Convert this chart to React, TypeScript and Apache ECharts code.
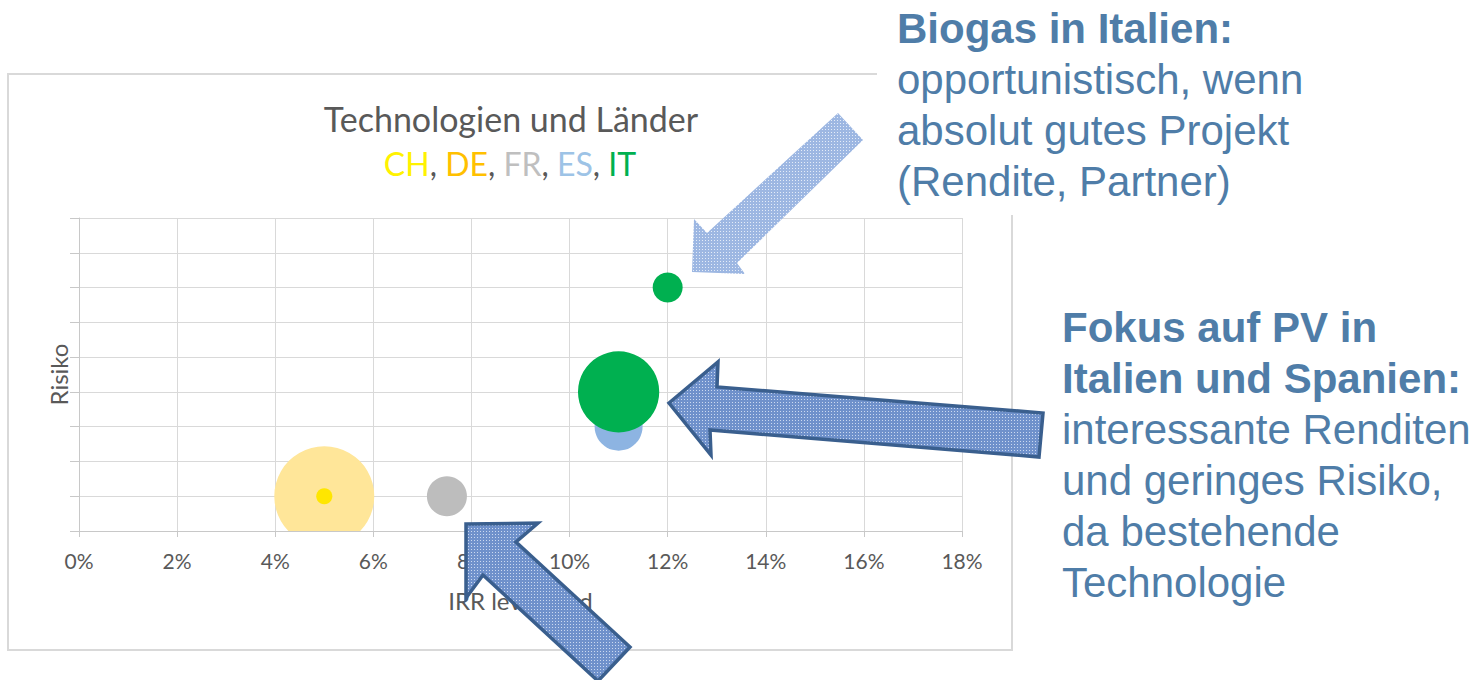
import React, { useEffect, useRef } from "react";
import * as echarts from "echarts";

// ---- data ----
const X_MIN = 0;
const X_MAX = 0.18;
const X_STEP = 0.02;
const Y_MIN = 0;
const Y_MAX = 9;
const Y_STEP = 1;

const X_AXIS_NAME = "IRR leveraged";
const Y_AXIS_NAME = "Risiko";
const TITLE = "Technologien und Länder";
const COUNTRIES = ["CH", "DE", "FR", "ES", "IT"];

// [IRR leveraged, Risiko, bubble size]
const DE_POINTS = [[0.05, 1, 100]];
const CH_POINTS = [[0.05, 1, 2.6]];
const FR_POINTS = [[0.075, 1, 16]];
const ES_POINTS = [[0.11, 3, 23]];
const IT_POINTS = [
  [0.11, 4, 66],
  [0.12, 7, 9],
];

const BIOGAS_LINES = [
  { t: "Biogas in Italien:", b: true },
  { t: "opportunistisch, wenn", b: false },
  { t: "absolut gutes Projekt", b: false },
  { t: "(Rendite, Partner)", b: false },
];
const FOKUS_LINES = [
  { t: "Fokus auf PV in", b: true },
  { t: "Italien und Spanien:", b: true },
  { t: "interessante Renditen", b: false },
  { t: "und geringes Risiko,", b: false },
  { t: "da bestehende", b: false },
  { t: "Technologie", b: false },
];

const COLORS: Record<string, string> = {
  CH: "#FFE600",
  DE: "#FFE699",
  FR: "#BDBDBD",
  ES: "#8DB4E2",
  IT: "#00B050",
};
const TITLE_COLORS: Record<string, string> = {
  CH: "#FFF200",
  DE: "#FFC000",
  FR: "#BFBFBF",
  ES: "#9DC3E6",
  IT: "#00B050",
};

const BUBBLE_SCALE = 5;
const TEXT_BLUE = "#4F7DA8";
const AXIS_GRAY = "#595959";
const GRID_GRAY = "#D9D9D9";

function makePattern(base: string, dot: string) {
  const c = document.createElement("canvas");
  c.width = 3;
  c.height = 3;
  const ctx = c.getContext("2d");
  if (!ctx) return base;
  ctx.fillStyle = base;
  ctx.fillRect(0, 0, 3, 3);
  ctx.fillStyle = dot;
  ctx.fillRect(0, 0, 1, 1);
  return { image: c.toDataURL(), repeat: "repeat" } as any;
}

function bubbleSeries(name: string, data: number[][]) {
  const color = COLORS[name];
  return {
    type: "custom",
    name,
    clip: true,
    data,
    encode: { x: 0, y: 1 },
    renderItem: (params: any, api: any) => {
      const c = api.coord([api.value(0), api.value(1)]);
      const r = BUBBLE_SCALE * Math.sqrt(api.value(2));
      return {
        type: "circle",
        shape: { cx: c[0], cy: c[1], r },
        style: { fill: color },
      };
    },
  };
}

export default function App() {
  const ref = useRef<HTMLDivElement>(null);
  useEffect(() => {
    if (!ref.current) return;
    const chart = echarts.init(ref.current, undefined, { renderer: "svg" });

    const darkFill = makePattern("#6F91CB", "#CBD9F0");
    const lightFill = makePattern("#9DB7E2", "#E4ECF8");
    const stroke = "#3A5F8E";

    const richSub: any = { c: { fill: AXIS_GRAY, fontSize: 32, fontFamily: "Lato" } };
    COUNTRIES.forEach((k) => {
      richSub[k] = { fill: TITLE_COLORS[k], fontSize: 32, fontFamily: "Lato" };
    });
    const subText = COUNTRIES.map((k) => `{${k}|${k}}`).join("{c|, }");

    const textEls: any[] = [];
    BIOGAS_LINES.forEach((l, i) => {
      textEls.push({
        type: "text",
        x: 897,
        y: 28 + i * 51.3,
        z: 120,
        style: {
          text: l.t,
          fill: TEXT_BLUE,
          fontSize: 42,
          fontWeight: l.b ? "bold" : "normal",
          fontFamily: "Liberation Sans, Arial",
          textAlign: "left",
          textVerticalAlign: "middle",
          align: "left",
          verticalAlign: "middle",
        },
      });
    });
    FOKUS_LINES.forEach((l, i) => {
      textEls.push({
        type: "text",
        x: 1062,
        y: 327 + i * 51,
        z: 120,
        style: {
          text: l.t,
          fill: TEXT_BLUE,
          fontSize: 42,
          fontWeight: l.b ? "bold" : "normal",
          fontFamily: "Liberation Sans, Arial",
          textAlign: "left",
          textVerticalAlign: "middle",
          align: "left",
          verticalAlign: "middle",
        },
      });
    });

    const option: any = {
      animation: false,
      backgroundColor: "#ffffff",
      grid: { left: 79, top: 218, width: 883, height: 313, containLabel: false },
      xAxis: {
        type: "value",
        min: X_MIN,
        max: X_MAX,
        interval: X_STEP,
        name: X_AXIS_NAME,
        nameLocation: "middle",
        nameGap: 57,
        nameTextStyle: { color: AXIS_GRAY, fontSize: 24, fontFamily: "Lato" },
        axisLine: { show: true, lineStyle: { color: "#C8C8C8", width: 1 } },
        axisTick: { show: true, length: 6, lineStyle: { color: "#C8C8C8" } },
        axisLabel: {
          color: AXIS_GRAY,
          fontSize: 21,
          fontFamily: "Lato",
          margin: 19,
          formatter: (v: number) => `${Math.round(v * 100)}%`,
        },
        splitLine: { show: true, lineStyle: { color: GRID_GRAY, width: 1 } },
      },
      yAxis: {
        type: "value",
        min: Y_MIN,
        max: Y_MAX,
        interval: Y_STEP,
        name: Y_AXIS_NAME,
        nameLocation: "middle",
        nameGap: 9,
        nameTextStyle: { color: AXIS_GRAY, fontSize: 24, fontFamily: "Lato" },
        axisLine: { show: true, lineStyle: { color: "#C8C8C8", width: 1 } },
        axisTick: { show: true, length: 9, lineStyle: { color: "#C8C8C8" } },
        axisLabel: { show: false },
        splitLine: { show: true, lineStyle: { color: GRID_GRAY, width: 1 } },
      },
      series: [
        bubbleSeries("DE", DE_POINTS),
        bubbleSeries("CH", CH_POINTS),
        bubbleSeries("FR", FR_POINTS),
        bubbleSeries("ES", ES_POINTS),
        bubbleSeries("IT", IT_POINTS),
      ],
      graphic: [
        {
          type: "rect",
          z: -10,
          silent: true,
          shape: { x: 8, y: 74, width: 1004, height: 576 },
          style: { fill: "none", stroke: GRID_GRAY, lineWidth: 2 },
        },
        {
          type: "rect",
          z: 50,
          silent: true,
          shape: { x: 877, y: 0, width: 460, height: 215 },
          style: { fill: "#ffffff" },
        },
        {
          type: "text",
          x: 511,
          y: 118,
          z: 60,
          style: {
            text: TITLE,
            fill: AXIS_GRAY,
            fontSize: 34,
            fontFamily: "Lato",
            textAlign: "center",
            textVerticalAlign: "middle",
            align: "center",
            verticalAlign: "middle",
          },
        },
        {
          type: "text",
          x: 510,
          y: 163,
          z: 60,
          style: {
            text: subText,
            rich: richSub,
            fontSize: 32,
            fontFamily: "Lato",
            textAlign: "center",
            textVerticalAlign: "middle",
            align: "center",
            verticalAlign: "middle",
          },
        },
        {
          type: "polygon",
          z: 100,
          shape: {
            points: [
              [838, 113],
              [863, 140],
              [737, 263],
              [745, 274],
              [692, 272],
              [694, 219],
              [707, 233],
            ],
          },
          style: { fill: lightFill },
        },
        {
          type: "polygon",
          z: 100,
          shape: {
            points: [
              [669, 403],
              [718, 362],
              [717, 387],
              [1043, 413],
              [1039, 457],
              [710, 430],
              [711, 455],
            ],
          },
          style: { fill: darkFill, stroke, lineWidth: 3.5, lineJoin: "miter" },
        },
        {
          type: "polygon",
          z: 100,
          shape: {
            points: [
              [466, 524],
              [538, 523],
              [516, 542],
              [630, 647],
              [598, 681],
              [483, 575],
              [466, 598],
            ],
          },
          style: { fill: darkFill, stroke, lineWidth: 3.5, lineJoin: "miter" },
        },
        ...textEls,
      ],
    };
    chart.setOption(option);
    return () => chart.dispose();
  }, []);
  return (
    <div
      ref={ref}
      style={{ position: "fixed", left: 0, top: 0, width: 1480, height: 680, background: "#fff" }}
    />
  );
}
